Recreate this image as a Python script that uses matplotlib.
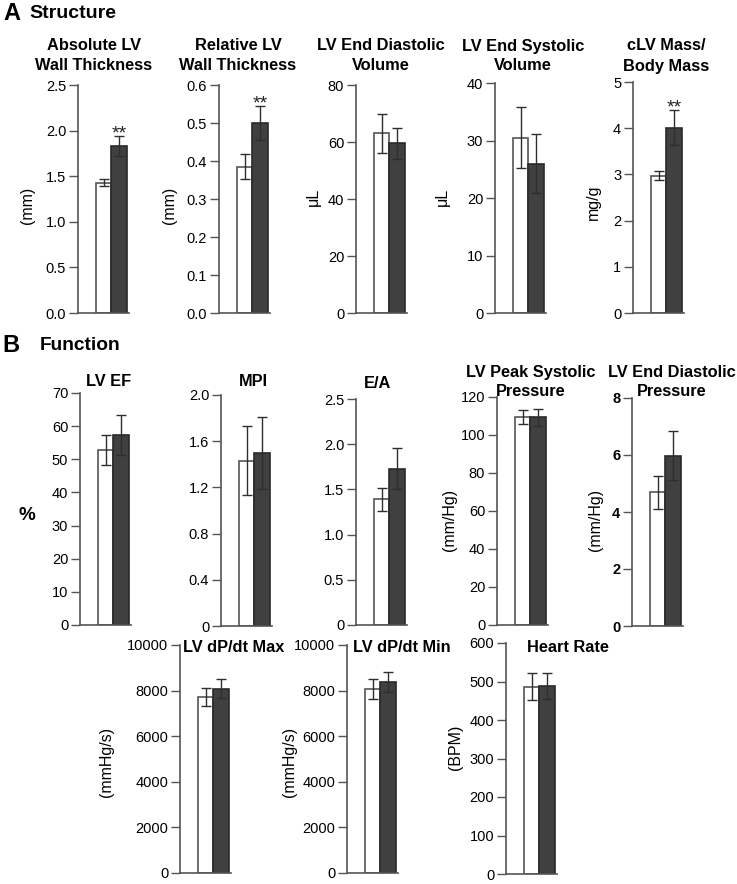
import matplotlib
matplotlib.use("Agg")
import matplotlib.pyplot as plt

plt.rcParams['font.family'] = ['Liberation Sans', 'DejaVu Sans']

W, H = 737, 884

# ---- data (control = white, treated = dark) ----
panel_titles = ["Absolute LV\nWall Thickness", "Relative LV\nWall Thickness",
                "LV End Diastolic\nVolume", "LV End Systolic\nVolume",
                "cLV Mass/\nBody Mass",
                "LV EF", "MPI", "E/A", "LV Peak Systolic\nPressure",
                "LV End Diastolic\nPressure",
                "LV dP/dt Max", "LV dP/dt Min", "Heart Rate"]
units = ["(mm)", "(mm)", "μL", "μL", "mg/g",
         "%", "", "", "(mm/Hg)", "(mm/Hg)",
         "(mmHg/s)", "(mmHg/s)", "(BPM)"]
control_mean = [1.43, 0.385, 63, 30.5, 2.97, 52.7, 1.43, 1.39, 109.3, 4.69, 7725, 8070, 487]
control_err = [0.04, 0.033, 7, 5.3, 0.1, 4.5, 0.3, 0.13, 3.7, 0.58, 410, 460, 36]
treated_mean = [1.83, 0.50, 59.5, 26, 4.01, 57.3, 1.50, 1.73, 109.3, 5.98, 8087, 8377, 488]
treated_err = [0.11, 0.045, 5.5, 5.1, 0.38, 6, 0.31, 0.23, 4.4, 0.85, 400, 430, 34]
signif = ["**", "**", "", "", "**", "", "", "", "", "", "", "", ""]
y_max = [2.5, 0.6, 80, 40, 5, 70, 2.0, 2.5, 120, 8, 10000, 10000, 600]
y_step = [0.5, 0.1, 20, 10, 1, 10, 0.4, 0.5, 20, 2, 2000, 2000, 100]
tick_fmt = ["%.1f", "%.1f", "%d", "%d", "%d", "%d", "%.1f", "%.1f", "%d", "%d", "%d", "%d", "%d"]

# ---- layout in pixels: spine x, top y, bottom y ----
spine_x = [78, 219, 356, 495, 633, 80, 221, 356, 497, 632, 180, 347, 506]
top_y = [85, 85, 85, 83, 82, 393, 395, 399, 397, 398, 645, 645, 643]
bot_y = [313, 313, 313, 313, 313, 625, 626, 625, 625, 626, 873, 873, 874]
# first title line position; second line sits 20 px lower
title_xy = [(94, 46), (238, 46), (381, 46), (523, 46), (666, 46),
            (109, 382), (253, 382), (378, 383), (531, 372), (672, 372),
            (183, 648), (353, 648), (527, 647)]
ylabel_xy = [(28, 205), (170, 205), (313, 197), (442, 197), (593, 202),
             (27, 515), None, None, (450, 520), (595, 520),
             (106, 762), (290, 762), (455, 747)]

fig = plt.figure(figsize=(W / 100, H / 100), dpi=100)

def fx(x):
    return x / W

def fy(y):
    return 1 - y / H

grey = '#555555'

for i in range(len(panel_titles)):
    ax = fig.add_axes([fx(spine_x[i]), fy(bot_y[i]), 51 / W, (bot_y[i] - top_y[i]) / H])
    ax.bar([0, 1], [control_mean[i], treated_mean[i]], width=1,
           color=['white', '#404040'], edgecolor=[grey, '#2a2a2a'], linewidth=1.2, zorder=2)
    ax.errorbar([0, 1], [control_mean[i], treated_mean[i]],
                yerr=[control_err[i], treated_err[i]], fmt='none',
                ecolor='#2e2e2e', elinewidth=1, capsize=3.3, capthick=1, zorder=3)
    if signif[i]:
        ax.annotate(signif[i], xy=(1, treated_mean[i] + treated_err[i]), xytext=(0, -1.5),
                    textcoords='offset points', ha='center', va='baseline',
                    fontsize=14, color='#222222', annotation_clip=False)
    ax.set_xlim(-1.66, 1.65)
    ax.set_ylim(0, y_max[i])
    n = int(round(y_max[i] / y_step[i]))
    ticks = [k * y_step[i] for k in range(n + 1)]
    labels = [tick_fmt[i] % t for t in ticks]
    if i in (6, 7):
        labels[0] = "0"
    ax.set_yticks(ticks)
    ax.set_yticklabels(labels, fontsize=10.5, fontweight='bold' if i == 9 else 'normal')
    ax.set_xticks([])
    for s in ['top', 'right']:
        ax.spines[s].set_visible(False)
    for s in ['left', 'bottom']:
        ax.spines[s].set_color(grey)
        ax.spines[s].set_linewidth(1.2)
    ax.tick_params(axis='y', direction='out', length=6.5, width=1, color=grey, pad=2)
    ax.patch.set_alpha(0)

    # titles, one text per line
    tx, ty = title_xy[i]
    for k, line in enumerate(panel_titles[i].split("\n")):
        fig.text(fx(tx), fy(ty + 20 * k), line, ha='left' if i >= 10 else 'center',
                 va='center', fontsize=11.8, fontweight='bold')

    # y labels
    if ylabel_xy[i] is not None:
        lx, ly = ylabel_xy[i]
        if units[i] == "%":
            fig.text(fx(lx), fy(ly), units[i], ha='center', va='center',
                     fontsize=13.5, fontweight='bold')
        else:
            fig.text(fx(lx), fy(ly), units[i], ha='center', va='center',
                     fontsize=11.5, rotation=90)

# section headers
fig.text(fx(3), fy(14), "A", fontsize=17, fontweight='bold', va='center')
fig.text(fx(29), fy(14), "Structure", fontsize=14, fontweight='bold', va='center')
fig.text(fx(2), fy(345), "B", fontsize=17, fontweight='bold', va='center')
fig.text(fx(40), fy(345), "Function", fontsize=13.8, fontweight='bold', va='center')

fig.savefig("out.png", dpi=100, facecolor='white')
